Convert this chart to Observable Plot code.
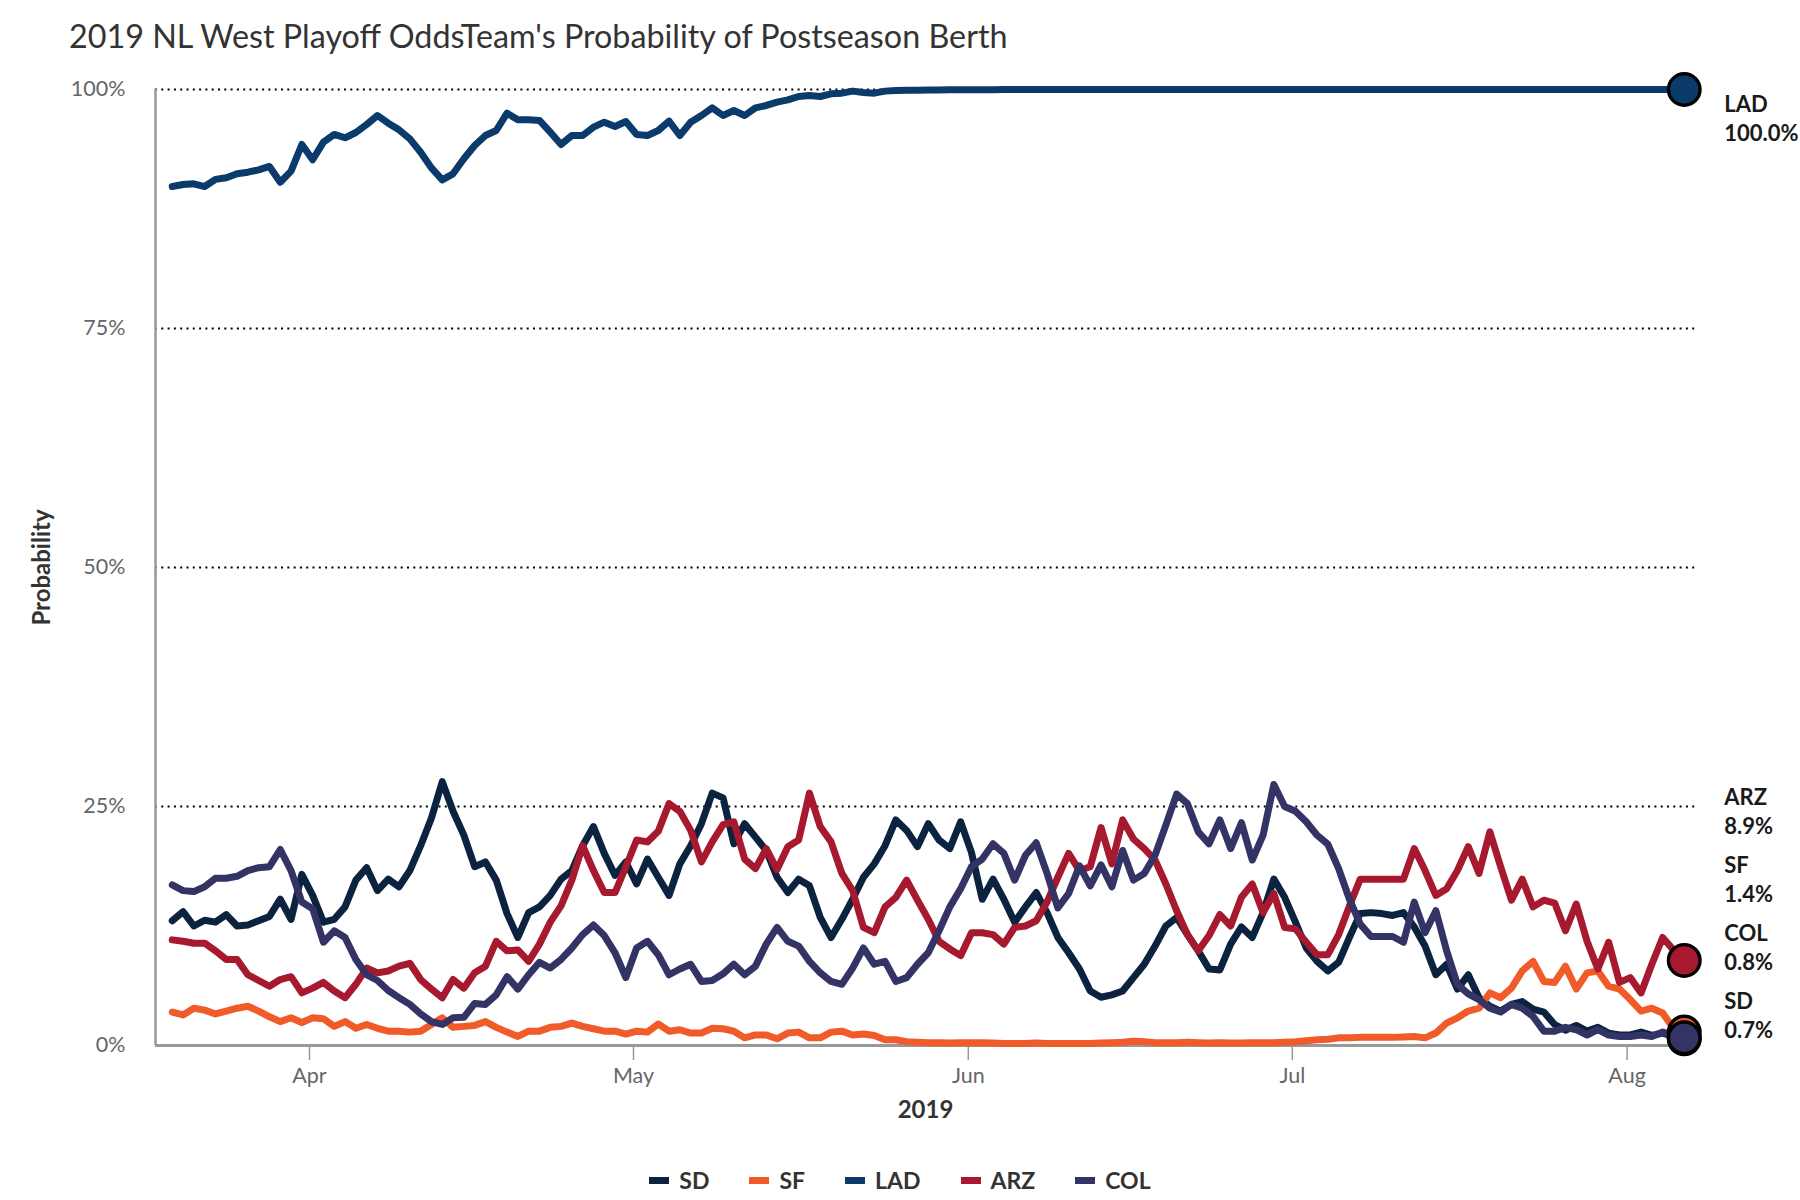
<!DOCTYPE html>
<html>
<head>
<meta charset="utf-8">
<script src="https://cdn.jsdelivr.net/npm/d3@7"></script>
<script src="https://cdn.jsdelivr.net/npm/@observablehq/plot@0.6"></script>
<style>
  body { margin: 0; background: #fff; font-family: Lato, "Open Sans", sans-serif; }
  #wrap { position: relative; width: 1800px; height: 1200px; overflow: hidden; }
  #title { position: absolute; left: 69px; top: 17px; font-size: 32.3px; color: #333; white-space: nowrap; line-height: 38px; }
  #chart { position: absolute; left: 0; top: 55px; }
  #legend { position: absolute; left: 0; top: 1165px; width: 1800px; height: 30px; display: flex; justify-content: center; align-items: center; }
  .item { display: flex; align-items: center; margin: 0 20px; }
  .sw { width: 20px; height: 7px; margin-right: 10px; }
  .lab { font-size: 23px; font-weight: bold; color: #333; }
</style>
</head>
<body>
<div id="wrap">
  <div id="title">2019 NL West Playoff OddsTeam's Probability of Postseason Berth</div>
  <div id="chart"></div>
  <div id="legend"></div>
</div>
<script>
// ---- data (daily, Mar 19 – Aug 6, 2019) ----
const teams = ["SD", "SF", "LAD", "ARZ", "COL"];
const teamColors = ["#0c2340", "#f15a29", "#0b3b6b", "#a6192e", "#333366"];
const firstDay = "2019-03-19";
const monthTicks = ["2019-04-01", "2019-05-01", "2019-06-01", "2019-07-01", "2019-08-01"];
const yTicks = [0, 25, 50, 75, 100];

const sd = [
  13.05,14.0,12.5,13.1,12.9,13.7,12.5,12.6,13.05,13.5,15.3,13.2,17.9,
  15.7,12.9,13.2,14.5,17.3,18.6,16.2,17.4,16.6,18.3,
  20.9,23.8,27.6,24.5,22.0,18.7,19.2,17.3,13.8,11.3,
  13.9,14.5,15.7,17.4,18.3,20.9,22.9,20.1,17.8,19.2,
  16.9,19.5,17.6,15.7,19.0,20.9,23.2,26.4,25.9,21.1,
  23.2,21.8,20.4,17.6,16.0,17.4,16.7,13.4,11.3,13.2,
  15.3,17.6,19.0,20.9,23.6,22.5,20.8,23.2,21.5,20.6,
  23.4,20.2,15.3,17.4,15.3,12.9,14.5,16.0,13.9,11.3,
  9.7,8.0,5.7,5.05,5.3,5.7,7.1,8.5,10.4,12.5,
  13.4,11.6,9.9,8.0,7.9,10.6,12.4,11.3,13.9,17.4,
  15.5,12.9,10.2,8.8,7.8,8.7,11.3,13.8,13.9,13.8,
  13.6,13.9,12.4,10.4,7.4,8.5,5.9,7.4,5.0,4.1,
  3.6,4.3,4.6,3.8,3.5,2.2,1.6,2.1,1.5,1.9,
  1.3,1.1,1.1,1.4,1.05,1.3,0.95,0.7
];
const sf = [
  3.5,3.2,3.9,3.7,3.3,3.6,3.9,4.1,3.6,3.0,2.5,2.9,2.4,
  2.9,2.8,2.0,2.5,1.8,2.2,1.8,1.5,1.5,1.4,
  1.5,2.2,2.9,1.9,2.0,2.1,2.5,1.9,1.4,0.95,
  1.5,1.5,1.9,2.0,2.35,2.0,1.75,1.5,1.5,1.2,
  1.5,1.4,2.25,1.5,1.65,1.3,1.3,1.8,1.75,1.5,
  0.8,1.1,1.1,0.7,1.3,1.4,0.8,0.8,1.4,1.5,
  1.1,1.2,1.05,0.6,0.6,0.4,0.35,0.3,0.3,0.25,
  0.3,0.3,0.3,0.25,0.2,0.2,0.2,0.25,0.2,0.2,
  0.2,0.2,0.2,0.25,0.3,0.35,0.45,0.4,0.3,0.3,
  0.3,0.35,0.3,0.25,0.3,0.25,0.25,0.3,0.3,0.3,
  0.35,0.4,0.5,0.6,0.65,0.8,0.8,0.85,0.85,0.85,
  0.85,0.9,0.95,0.8,1.3,2.35,2.9,3.6,3.9,5.5,
  5.0,6.0,7.8,8.8,6.7,6.6,8.3,5.9,7.6,7.8,
  6.2,5.9,4.8,3.6,3.9,3.4,1.8,1.4
];
const lad = [
  89.85,90.06,90.13,89.85,90.6,90.76,91.18,91.35,91.6,91.95,90.3,91.46,94.25,
  92.65,94.5,95.3,94.95,95.5,96.34,97.28,96.48,95.78,94.84,
  93.44,91.8,90.55,91.18,92.75,94.14,95.19,95.71,97.52,96.83,
  96.83,96.76,95.53,94.25,95.19,95.19,96.06,96.58,96.13,96.65,
  95.29,95.19,95.71,96.69,95.19,96.58,97.28,98.08,97.28,97.8,
  97.28,98.08,98.33,98.68,98.92,99.27,99.37,99.27,99.55,99.62,
  99.83,99.69,99.62,99.83,99.9,99.92,99.93,99.95,99.96,99.97,
  99.97,99.98,99.98,99.98,99.99,99.99,99.99,99.99,99.99,100,
  100,100,100,100,100,100,100,100,100,100,
  100,100,100,100,100,100,100,100,100,100,
  100,100,100,100,100,100,100,100,100,100,
  100,100,100,100,100,100,100,100,100,100,
  100,100,100,100,100,100,100,100,100,100,
  100,100,100,100,100,100,100,100
];
const arz = [
  11.05,10.9,10.7,10.7,9.9,9.0,9.0,7.4,6.8,6.2,6.9,7.2,5.5,
  6.0,6.6,5.7,5.0,6.4,8.1,7.6,7.8,8.3,8.6,
  6.9,5.9,5.0,6.9,6.0,7.6,8.3,10.9,9.9,10.0,
  8.8,10.6,12.9,14.6,17.3,20.9,18.3,16.0,16.0,18.7,
  21.5,21.3,22.4,25.3,24.5,22.5,19.2,21.3,23.1,23.4,
  19.5,18.5,20.6,18.4,20.8,21.5,26.4,22.9,21.3,18.0,
  16.2,12.35,11.8,14.5,15.5,17.3,15.2,13.2,10.9,10.1,
  9.4,11.8,11.8,11.6,10.6,12.35,12.5,13.05,15.0,17.6,
  20.1,18.3,18.7,22.8,19.0,23.6,21.6,20.6,19.4,16.9,
  14.1,11.6,9.9,11.5,13.7,12.5,15.5,16.9,13.9,15.9,
  12.35,12.2,10.8,9.5,9.5,11.6,14.6,17.4,17.4,17.4,
  17.4,17.4,20.6,18.3,15.7,16.4,18.3,20.8,18.0,22.35,
  18.7,15.2,17.4,14.5,15.2,14.9,12.0,14.8,10.9,8.0,
  10.8,6.6,7.1,5.5,8.5,11.3,10.0,8.9
];
const col = [
  16.8,16.2,16.1,16.6,17.5,17.5,17.7,18.3,18.6,18.7,20.5,18.3,15.0,
  14.3,10.8,12.0,11.3,9.0,7.4,6.8,5.75,5.0,4.3,
  3.3,2.5,2.2,2.9,2.95,4.4,4.3,5.3,7.2,5.9,
  7.4,8.7,8.1,9.0,10.2,11.6,12.6,11.5,9.7,7.1,
  10.2,10.9,9.5,7.4,8.0,8.5,6.7,6.8,7.5,8.5,
  7.4,8.3,10.6,12.35,10.9,10.4,8.8,7.6,6.7,6.4,
  8.1,10.2,8.5,8.8,6.7,7.1,8.5,9.7,12.0,14.5,
  16.4,18.7,19.5,21.1,20.1,17.3,19.9,21.2,18.0,14.4,
  15.9,18.8,16.7,18.9,16.6,20.4,17.3,18.0,19.9,23.05,
  26.3,25.3,22.35,21.1,23.6,20.6,23.3,19.4,22.0,27.3,
  25.0,24.5,23.4,22.0,21.05,18.5,15.3,12.7,11.4,11.4,
  11.4,10.8,15.0,11.8,14.1,9.9,6.4,5.4,4.8,3.9,
  3.5,4.3,3.9,3.05,1.5,1.5,1.9,1.65,1.1,1.65,
  1.1,0.95,0.95,1.1,0.95,1.4,1.1,0.8
];

// ---- build table ----
const series = [sd, sf, lad, arz, col];
const t0 = new Date(firstDay + "T07:00:00Z"); // midnight Pacific
const dates = sd.map((_, i) => new Date(t0.getTime() + i * 864e5));
const rows = teams.flatMap((t, j) => series[j].map((v, i) => ({team: t, date: dates[i], value: v})));
const lastDate = dates[dates.length - 1];
const ends = teams.map((t, j) => ({team: t, date: lastDate, value: series[j][series[j].length - 1]}));

// ---- layout ----
const W = 1800, H = 1090, mt = 34, mb = 100, ml = 155, mr = 105;
const xDomain = [new Date("2019-03-17T17:47:00Z"), new Date("2019-08-07T08:00:00Z")];
const pxPerUnit = (H - mt - mb) / 100;

// dodge end labels (in data units)
const off = 28 / pxPerUnit, floor = 31 / pxPerUnit, gap = 68 / pxPerUnit;
const sorted = [...ends].sort((a, b) => a.value - b.value);
let prev = -Infinity;
const labels = sorted.map((d, i) => {
  let p = i === 0 ? Math.max(d.value - off, floor) : Math.max(d.value - off, prev + gap);
  prev = p;
  return {...d, ly: p};
});

const chart = Plot.plot({
  width: W, height: H,
  marginTop: mt, marginBottom: mb, marginLeft: ml, marginRight: mr,
  style: {fontFamily: "Lato, sans-serif", background: "#fff", overflow: "visible"},
  x: {type: "utc", domain: xDomain},
  y: {domain: [0, 100]},
  color: {domain: teams, range: teamColors},
  marks: [
    Plot.ruleY([25, 50, 75, 100], {stroke: "#000", strokeWidth: 1.8, strokeDasharray: "2,4.3"}),
    Plot.axisY({ticks: yTicks, tickFormat: d => d + "%", tickSize: 0, tickPadding: 30,
      fontSize: 21.5, fill: "#666", label: null}),
    Plot.axisX({ticks: monthTicks.map(d => new Date(d + "T00:00:00Z")), tickFormat: d3.utcFormat("%b"),
      tickSize: 15, tickPadding: 7, stroke: "#999", strokeWidth: 1.5, fill: "#666", fontSize: 21.5, label: null}),
    Plot.ruleX([xDomain[0]], {stroke: "#999", strokeWidth: 2.5}),
    Plot.ruleY([0], {x1: xDomain[0], x2: lastDate, stroke: "#999", strokeWidth: 3}),
    Plot.text(["Probability"], {frameAnchor: "left", textAnchor: "middle", lineAnchor: "middle",
      dx: -113, rotate: -90, fontSize: 24, fontWeight: "bold", fill: "#333"}),
    Plot.text(["2019"], {frameAnchor: "bottom", dy: 65, lineAnchor: "middle", textAnchor: "middle",
      fontSize: 24, fontWeight: "bold", fill: "#333"}),
    Plot.line(rows, {x: "date", y: "value", z: "team", stroke: "team", strokeWidth: 7,
      strokeLinejoin: "round", strokeLinecap: "round"}),
    Plot.dot(ends, {x: "date", y: "value", r: 15.8, fill: "team", stroke: "#000", strokeWidth: 3.4}),
    Plot.text(labels, {x: "date", y: "ly", text: d => `${d.team}\n${d.value.toFixed(1)}%`,
      textAnchor: "start", lineAnchor: "middle", lineHeight: 1.28, dx: 40,
      fontSize: 22, fontWeight: "bold", fill: "#1a1a1a"})
  ]
});
document.getElementById("chart").appendChild(chart);

// ---- legend ----
const legend = document.getElementById("legend");
teams.forEach((t, i) => {
  const it = document.createElement("div");
  it.className = "item";
  it.innerHTML = `<div class="sw" style="background:${teamColors[i]}"></div><span class="lab">${t}</span>`;
  legend.appendChild(it);
});
</script>
</body>
</html>
